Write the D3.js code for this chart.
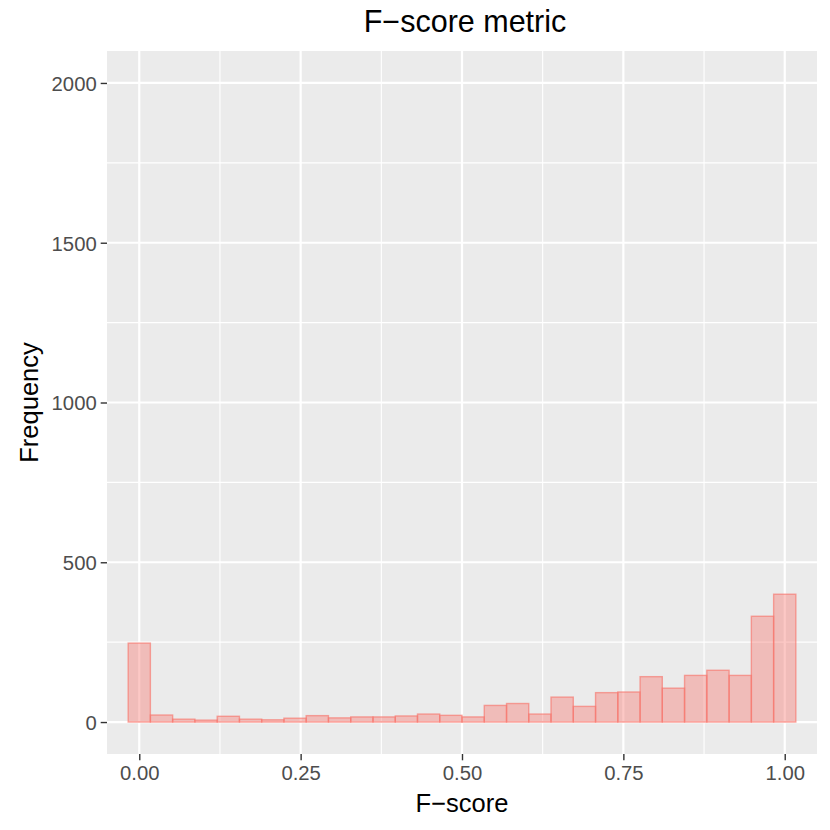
<!DOCTYPE html>
<html>
<head>
<meta charset="utf-8">
<script src="https://cdn.jsdelivr.net/npm/d3@7"></script>
<style>
  body { margin: 0; background: #fff; }
  text { font-family: "Liberation Sans", Arial, sans-serif; }
</style>
</head>
<body>
<script>
// histogram bins (lower / upper edges) and counts
var binStart = [-0.0172, 0.0172, 0.0517, 0.0862, 0.1207, 0.1552, 0.1897, 0.2241, 0.2586, 0.2931,
    0.3276, 0.3621, 0.3966, 0.4310, 0.4655, 0.5000, 0.5345, 0.5690, 0.6034, 0.6379,
    0.6724, 0.7069, 0.7414, 0.7759, 0.8103, 0.8448, 0.8793, 0.9138, 0.9483, 0.9828];
var binEnd = [0.0172, 0.0517, 0.0862, 0.1207, 0.1552, 0.1897, 0.2241, 0.2586, 0.2931, 0.3276,
    0.3621, 0.3966, 0.4310, 0.4655, 0.5000, 0.5345, 0.5690, 0.6034, 0.6379, 0.6724,
    0.7069, 0.7414, 0.7759, 0.8103, 0.8448, 0.8793, 0.9138, 0.9483, 0.9828, 1.0172];
var counts = [247, 22, 9, 6, 18, 9, 7, 12, 20, 13,
    16, 16, 19, 25, 21, 16, 52, 58, 25, 78,
    49, 92, 94, 142, 106, 146, 162, 146, 331, 400];

var xTicks = [0, 0.25, 0.5, 0.75, 1];
var xMinor = [0.125, 0.375, 0.625, 0.875];
var yTicks = [0, 500, 1000, 1500, 2000];
var yMinor = [250, 750, 1250, 1750];

var titleText = "F\u2212score metric",
    xTitle = "F\u2212score",
    yTitle = "Frequency";

// panel box in pixels
var W = 830, H = 830;
var panel = { left: 107, right: 817, top: 51, bottom: 754 };

var svg = d3.select("body").append("svg")
    .attr("width", W)
    .attr("height", H);

var x = d3.scaleLinear()
    .domain([-0.05, 1.05])
    .range([panel.left, panel.right]);

var y = d3.scaleLinear()
    .domain([-100, 2100])
    .range([panel.bottom, panel.top]);

// grey panel
svg.append("rect")
    .attr("x", panel.left)
    .attr("y", panel.top)
    .attr("width", panel.right - panel.left)
    .attr("height", panel.bottom - panel.top)
    .attr("fill", "#EBEBEB");

// minor grid
var grid = svg.append("g");
grid.selectAll(".xminor").data(xMinor).enter().append("line")
    .attr("x1", d => x(d)).attr("x2", d => x(d))
    .attr("y1", panel.top).attr("y2", panel.bottom)
    .attr("stroke", "#fff").attr("stroke-width", 1.1);
grid.selectAll(".yminor").data(yMinor).enter().append("line")
    .attr("y1", d => y(d)).attr("y2", d => y(d))
    .attr("x1", panel.left).attr("x2", panel.right)
    .attr("stroke", "#fff").attr("stroke-width", 1.1);
// major grid
grid.selectAll(".xmajor").data(xTicks).enter().append("line")
    .attr("x1", d => x(d)).attr("x2", d => x(d))
    .attr("y1", panel.top).attr("y2", panel.bottom)
    .attr("stroke", "#fff").attr("stroke-width", 2.2);
grid.selectAll(".ymajor").data(yTicks).enter().append("line")
    .attr("y1", d => y(d)).attr("y2", d => y(d))
    .attr("x1", panel.left).attr("x2", panel.right)
    .attr("stroke", "#fff").attr("stroke-width", 2.2);

// bars
svg.append("g").selectAll("rect")
    .data(counts)
    .enter()
    .append("rect")
    .attr("x", (d, i) => x(binStart[i]))
    .attr("width", (d, i) => x(binEnd[i]) - x(binStart[i]))
    .attr("y", d => y(d))
    .attr("height", d => y(0) - y(d))
    .attr("fill", "#F8766D")
    .attr("fill-opacity", 0.4)
    .attr("stroke", "#F8766D")
    .attr("stroke-opacity", 0.65)
    .attr("stroke-width", 1.4);

// axes
var xAxis = d3.axisBottom(x).tickValues(xTicks).tickFormat(d3.format(".2f"))
    .tickSize(6.3).tickPadding(4);
var gx = svg.append("g")
    .attr("transform", "translate(0," + panel.bottom + ")")
    .call(xAxis);

var yAxis = d3.axisLeft(y).tickValues(yTicks).tickFormat(d3.format("d"))
    .tickSize(6.3).tickPadding(4);
var gy = svg.append("g")
    .attr("transform", "translate(" + panel.left + ",0)")
    .call(yAxis);

[gx, gy].forEach(function (g) {
    g.select(".domain").remove();
    g.selectAll(".tick line").attr("stroke", "#333333").attr("stroke-width", 1.4);
    g.selectAll(".tick text")
        .attr("fill", "#4D4D4D")
        .style("font-family", "'Liberation Sans', Arial, sans-serif")
        .style("font-size", "20.3px");
});
gx.selectAll(".tick text").attr("dy", "0.78em");
gy.selectAll(".tick text").attr("dy", "0.36em");

// titles
svg.append("text")
    .attr("x", (panel.left + panel.right) / 2 + 3)
    .attr("y", 32)
    .attr("text-anchor", "middle")
    .attr("font-size", "30.5px")
    .attr("fill", "#000")
    .text(titleText);

svg.append("text")
    .attr("x", (panel.left + panel.right) / 2)
    .attr("y", 812)
    .attr("text-anchor", "middle")
    .attr("font-size", "25.5px")
    .attr("fill", "#000")
    .text(xTitle);

svg.append("text")
    .attr("transform", "translate(38," + ((panel.top + panel.bottom) / 2) + ") rotate(-90)")
    .attr("text-anchor", "middle")
    .attr("font-size", "25.5px")
    .attr("fill", "#000")
    .text(yTitle);
</script>
</body>
</html>
